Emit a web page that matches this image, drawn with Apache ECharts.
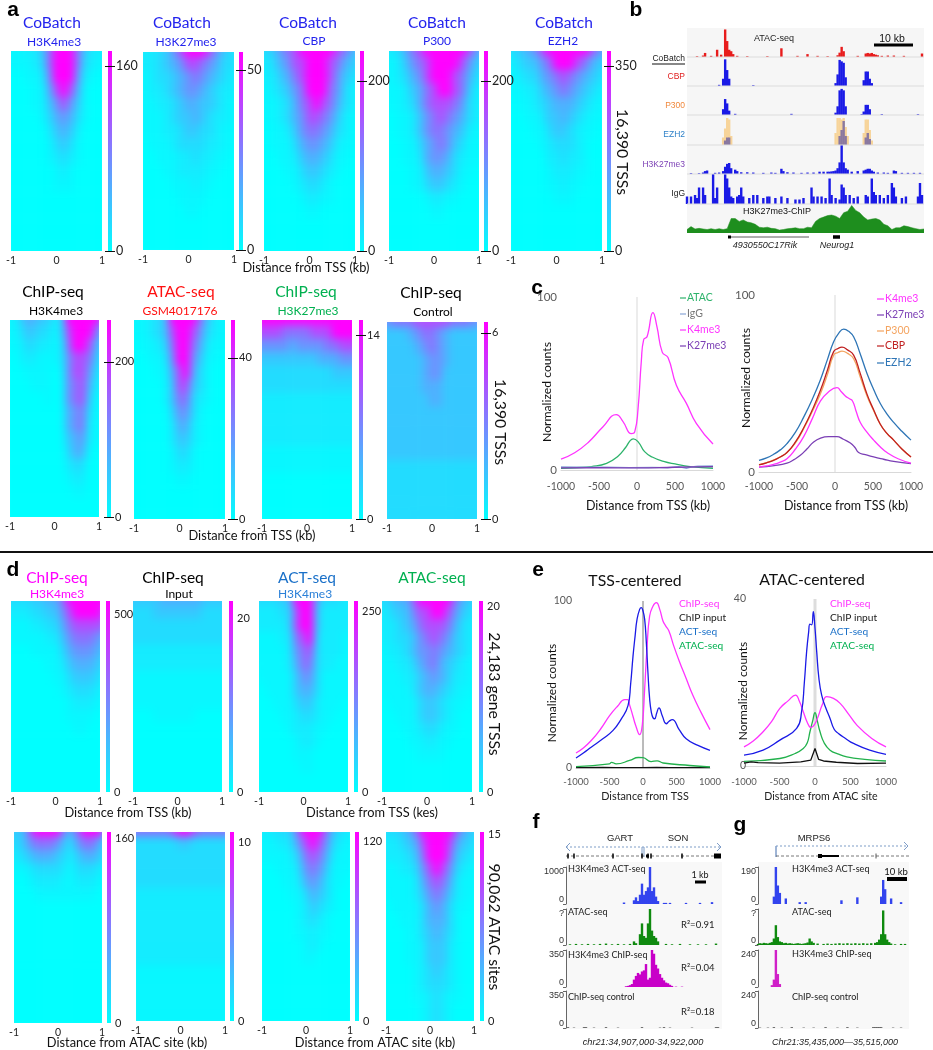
<!DOCTYPE html>
<html>
<head>
<meta charset="utf-8">
<title>CoBatch</title>
<style>
  html, body { margin: 0; padding: 0; background: #fff; }
  #heat, #main { position: absolute; left: 0; top: 0; width: 933px; height: 1050px; }
  #heat { filter: blur(4px); }
</style>
<script src="https://cdn.jsdelivr.net/npm/echarts@6/dist/echarts.min.js"></script>
</head>
<body>
<div id="heat"></div>
<div id="main"></div>
<script>
// heatmap values: one digit per cell, 0 = cyan, 9 = magenta
const Z = '000000000000000';
const aK4 = ['111224799974221','111123799973211','000112699962100','000011589851000','000011468641000','000001356531000','000000245420000','000000134310000','000000123210000','000000012100000','000000011100000',Z,Z,Z,Z,Z];
const aK27 = ['222346899986432','222345688765332','112334567654322','112234566543221','111223455443211','111123445432211','011122344332110','001112333322110','000111223221100','000011222211000','000001112110000','000000111100000','000000011000000',Z,Z,Z];
const aCBP = ['334678999998754','223568899987543','122457899986432','112346799976321','111235789875321','011235688764211','001124677653210','001113566542110','000112455431100','000011344321000','000001233210000','000000122110000','000000011000000',Z,Z,Z];
const aP300 = ['223578999999864','112467899998643','112356899987532','111245789987421','011235788876321','001124678765321','001124677654211','000113567643110','000112566532110','000011455431100','000011344321000','000000122110000','000000011000000',Z,Z,Z];
const aEZH2 = ['234568999999865','123446799987543','112335678765432','011224567654321','001123455543211','000112445432110','000011344321100','000001233321000','000000223221000','000000122211000','000000112110000','000000011100000',Z,Z,Z,Z];
const bK4 = ['113554423999997','112443313899974','011332212799853','001221112688742','000111101688631','000011100678521','000000100678410','000000000567310','000000000567210','000000000456210','000000000355100','000000000233000','000000000122000','000000000011000',Z,Z];
const bATAC = ['111234999974211','011234899863211','001123799752110','000112699641100','000011589531000','000001488431000','000001477321000','000000366310000','000000255210000','000000244210000','000000133100000','000000122100000','000000011000000',Z,Z,Z];
const bK27 = ['999999999999999','888877778889999','666665666677888','444444444555666','333333333334444','333333333333333','222222222222222','222222222222222','222222222222222','222222222222222','111111111111111','111111111111111',Z,Z,Z,Z];
const bCtrl = ['667778888877766','444456776544444','444445676544444','444444566544444','444444566444444','444444555444444','444444455444444','444444444444444','444444444444444','444444444444444','444444444444444','333333333333333','333333333333333','333333333333333','333333333333333','333333333333333'];
const dChIP = ['333344557999999','222233446899998','111122335788887','011111224677765','000011113566654','000000112455543','000000011344432','000000001233321','000000000122211','000000000111100','000000000011000',Z,Z,Z,Z,Z];
const dInput = ['444445555554444','333344444443333','333333333333333','333333333333333','222222222222222','222222222222222','111111111111111','111111111111111','111111111111111','000011111100000',Z,Z,Z,Z,Z,Z];
const dACT = ['333344999533322','222233899422222','222223899422222','111122789322211','111112678322211','111112577322111','011111466311111','001111455311111','000111344211100','000011233211000','000001222110000','000000122100000','000000111000000','000000011000000',Z,Z];
const dATAC = ['334557999997543','223446889986432','222345788875322','122334678764322','112234667654321','111223567543211','111122456542211','011112455432110','001111344321100','000111344321000','000011233211000','000001122110000','000000111100000',Z,Z,Z];
const eChIP = ['444899996589994','334677764367753','223455543245542','111233332133321','000122221122210','000011111111100',Z,Z,Z,Z,Z,Z,Z,Z,Z,Z];
const eInput = ['777777899877777','333333344333333','333333333333333','333333333333333','333333333333333','222222222222222','222222222222222','222222222222222','222222222222222','222222222222222','222222222222222','111111111111111','111111111111111','111111111111111','111111111111111','111111111111111'];
const eACT = ['222334899974322','111223689863211','111112478752111','000111367641110','000011256531100','000001135431000','000000124321000','000000123210000','000000112110000','000000012100000','000000011000000',Z,Z,Z,Z,Z];
const eATAC = ['333457999997543','222345899985432','222234799974322','111223689863211','111112578752111','011112467642110','001111356531100','000111355531000','000011345431000','000011244421000','000011244421000','000001234321000','000001233321000','000001123211000','000000123210000','000000123210000'];
const heatValues = [aK4, aK27, aCBP, aP300, aEZH2, bK4, bATAC, bK27, bCtrl, dChIP, dInput, dACT, dATAC, eChIP, eInput, eACT, eATAC];

// colour bar scale of each heatmap: labelled tick and value at the top of the bar
const barTicks = [160, 50, 200, 200, 350, 200, 40, 14, 6, 500, 20, 250, 20, 160, 10, 120, 15];
const barMaxes = [173, 55, 235, 235, 378, 254, 49.4, 15.2, 6.35, 539, 22, 265, 20.6, 166, 10.6, 126, 15.2];

// panel c curves [distance, counts]
const cAtac = [[-1000,1],[-800,1.3],[-600,2],[-400,3.8],[-250,8],[-150,13],[-90,17],[-50,18],[20,16],[100,10.6],[200,7.5],[350,5],[500,3.5],[700,2],[1000,1]];
const cIgG = [[-1000,1.8],[-700,1.6],[-400,1.7],[-100,1.4],[200,1.5],[400,1.3],[550,2],[650,1],[720,1.8],[800,2.2],[1000,2.4]];
const cK4 = [[-1000,6.3],[-820,10],[-645,15.8],[-447,25],[-272,32],[-184,28],[-75,21],[-30,22],[13,35],[57,63],[88,75.4],[132,77],[210,91],[263,82.7],[333,68],[408,65],[518,49],[650,38.5],[780,27],[1000,15]];
const cK27 = [[-1000,1.2],[-500,1.3],[0,1.2],[500,1.6],[1000,2]];
const c2Ezh2 = [[-1000,6.6],[-900,8],[-807,10],[-720,12.5],[-632,16],[-520,22.5],[-412,31],[-300,41],[-193,52],[-100,63.5],[-18,73.6],[50,78.5],[114,80.7],[180,79.5],[245,76.4],[330,67],[421,55.7],[510,46.5],[596,38.7],[680,33],[772,28],[880,23],[1000,18]];
const c2Cbp = [[-1000,4],[-900,5.2],[-807,6.6],[-720,8.5],[-632,11],[-520,17],[-412,25],[-300,35],[-193,46],[-100,57.5],[-18,68],[40,69.8],[92,70.5],[165,69],[245,66],[330,56],[421,44],[510,35],[596,27],[680,22],[772,18],[880,13],[1000,8.5]];
const c2P300 = [[-1000,4.2],[-900,5.3],[-807,6.8],[-720,8.6],[-632,11],[-520,16.5],[-412,24.5],[-300,34],[-193,44],[-100,55],[-18,66],[40,67.5],[92,68.3],[165,67],[245,64],[330,54],[421,43],[510,34.5],[596,27],[680,22],[772,18],[880,13],[1000,8.5]];
const c2K4 = [[-1000,2.8],[-900,3.4],[-807,4.3],[-720,5.6],[-632,7.5],[-520,13],[-412,20],[-300,30],[-193,40],[-80,45.5],[26,47.7],[80,45.5],[136,43],[185,41.5],[232,40],[280,34],[333,28],[420,22.5],[509,18],[600,14],[684,11],[830,7.5],[1000,5]];
const c2K27 = [[-1000,2.8],[-800,3.6],[-632,5],[-540,7],[-456,9.4],[-370,13],[-281,17],[-190,19.2],[-83,20],[26,20],[110,18.5],[202,16.4],[260,14],[311,11],[400,9.8],[509,8.5],[640,7.2],[772,6],[1000,4.7]];

// panel e curves
const eLChip = [[-1000,9],[-890,12],[-769,16.6],[-630,23.5],[-496,31.5],[-380,37],[-273,41],[-230,41],[-198,37.5],[-150,31],[-109,25.5],[-50,20],[-10,26],[25,47.5],[60,72],[99,91],[150,97],[199,99],[250,95],[298,88],[340,85],[387,82],[460,73],[546,63.5],[640,54],[744,43.5],[870,33],[1000,23]];
const eLInput = [[-1000,0.2],[-600,0.3],[-200,0.2],[200,0.3],[600,0.2],[1000,0.3]];
const eLAct = [[-1000,6],[-890,9],[-769,12.6],[-600,17.5],[-447,22.5],[-330,29],[-223,37.5],[-185,50],[-149,67],[-118,79],[-89,89],[-50,95],[-25,96],[0,94],[25,89],[50,75],[74,57],[100,41],[124,33.5],[150,30],[174,29.5],[205,33],[238,36],[290,31],[347,26.5],[390,28],[437,29],[540,23],[645,17.5],[820,13.5],[1000,10.6]];
const eLAtac = [[-1000,0.8],[-500,2.5],[-470,3.4],[-400,2.5],[-200,4.5],[-70,6.3],[0,6.2],[120,3.8],[210,4.3],[300,3],[700,1.5],[1000,0.6]];
const eRChip = [[-1000,4.6],[-870,6],[-731,8.2],[-610,10.7],[-495,13.8],[-380,15.6],[-274,17],[-220,15.5],[-165,13],[-110,10.5],[-57,9.2],[-5,10],[47,12],[105,14.8],[165,16.6],[260,16.2],[354,15],[470,12.5],[590,9.8],[800,6.6],[1000,4.6]];
const eRInput = [[-1000,0.7],[-900,1],[-800,0.8],[-500,0.7],[-200,1],[-60,1.4],[0,4.2],[50,1.6],[120,1.2],[300,0.9],[600,0.6],[1000,0.7]];
const eRAct = [[-1000,2.6],[-731,3.8],[-495,6.2],[-259,9],[-189,13],[-150,20],[-118,27.4],[-90,32],[-71,34],[-47,33.8],[-24,37],[0,33],[24,27.4],[55,21],[94,17],[150,14],[212,11.4],[270,8.8],[330,7.8],[430,6.6],[542,5.4],[770,3.8],[1000,2.8]];
const eRAtac = [[-1000,1.1],[-495,1.8],[-280,3],[-165,4.2],[-110,5.5],[-71,8.2],[-30,11],[0,12.8],[30,11],[71,8.2],[130,5.5],[212,3.8],[320,2.9],[448,2.2],[700,1.6],[1000,1.2]];

// browser tracks, panel b [bin, height]
const bAtacTrack = [[5,3],[8,5],[9,14],[12,4],[15,25],[17,8],[19,95],[20,55],[21,25],[22,20],[23,10],[25,4],[30,3],[40,3],[47,30],[55,4],[60,10],[65,4],[70,3],[75,6],[76,15],[77,35],[78,20],[85,4],[89,12],[90,14],[91,12],[92,14],[93,10],[94,8],[95,6],[97,4],[100,5],[103,5],[108,4],[117,12]];
const bCbp = [[16,4],[18,25],[19,92],[20,55],[21,25],[33,3],[74,10],[75,40],[76,90],[77,85],[78,80],[79,30],[88,20],[89,50],[90,50],[91,25],[92,10]];
const bP300 = [[18,20],[19,55],[20,40],[21,15],[24,4],[52,4],[74,8],[75,30],[76,85],[77,90],[78,85],[79,30],[87,3],[88,12],[89,35],[90,35],[91,20],[97,3],[115,3]];
const bEzh2Orange = [[18,25],[19,55],[20,90],[21,85],[22,30],[74,40],[75,90],[76,90],[77,85],[78,90],[79,60],[80,30],[88,40],[89,85],[90,85],[91,50],[92,15]];
const bEzh2Blue = [[19,15],[20,25],[21,25],[76,30],[77,50],[78,80],[79,30],[89,25],[90,40],[91,20]];
const bK27Track = [[2,3],[6,3],[8,5],[9,10],[10,12],[14,4],[16,5],[18,10],[19,25],[20,35],[21,38],[22,20],[24,15],[25,10],[27,6],[30,6],[33,5],[38,4],[42,5],[44,4],[47,18],[48,10],[50,6],[53,5],[57,4],[60,5],[63,5],[66,8],[68,8],[70,8],[71,8],[72,9],[73,10],[74,12],[75,20],[76,40],[77,100],[78,40],[79,20],[80,15],[82,8],[85,10],[88,12],[89,15],[90,18],[91,18],[92,12],[93,8],[95,5],[98,5],[100,4],[103,12],[104,10],[107,4],[110,4],[113,4],[116,4]];
const bIgG = [[0,25],[2,25],[4,30],[5,20],[6,55],[8,55],[9,30],[13,100],[14,20],[15,55],[19,100],[20,85],[21,55],[22,25],[23,20],[25,25],[26,30],[27,55],[28,25],[31,20],[33,30],[35,30],[38,20],[40,25],[41,25],[44,20],[47,25],[50,20],[54,15],[56,15],[58,20],[62,55],[63,25],[65,25],[67,25],[69,20],[71,85],[72,30],[74,20],[76,15],[77,65],[78,55],[79,30],[81,30],[83,20],[85,25],[89,30],[90,25],[92,85],[93,40],[94,30],[96,30],[98,20],[100,30],[102,70],[103,55],[104,25],[107,20],[109,25],[115,25],[116,70],[117,30]];
const bChipTrack = [12,22,14,16,14,12,15,12,15,12,15,50,50,40,45,38,35,30,20,18,20,16,15,10,12,15,16,18,15,15,20,18,40,50,55,60,62,58,50,70,75,95,78,70,55,45,48,50,45,30,25,12,18,18,25,22,18,15,12,14];

// browser tracks, panel f
const fAct = [[29,4],[34,10],[35,18],[36,8],[37,25],[38,55],[39,25],[40,35],[41,45],[42,100],[43,35],[44,45],[45,20],[46,8],[49,3],[50,3],[52,3],[60,3],[67,3],[73,5]];
const fAtac = [[2,2],[5,3],[8,2],[11,3],[14,2],[17,3],[20,4],[23,2],[26,3],[29,2],[32,3],[34,10],[35,5],[37,30],[38,60],[39,25],[40,20],[41,60],[42,100],[43,40],[44,25],[45,20],[46,10],[50,3],[53,2],[57,3],[62,2],[66,2],[70,2],[75,4]];
const fChip = [[30,2],[31,3],[32,5],[33,8],[34,20],[35,30],[36,38],[37,34],[38,42],[39,45],[40,62],[41,20],[42,25],[43,100],[44,90],[45,60],[46,50],[47,35],[48,25],[49,18],[50,12],[51,10],[52,6],[53,3],[55,1],[58,1]];
const fCtrl = [[1,2],[4,1],[9,2],[10,2],[14,1],[20,2],[26,1],[38,2],[47,1],[49,2],[52,1],[63,1],[75,2],[76,2]];

// browser tracks, panel g
const gAct = [[8,20],[9,100],[10,50],[11,30],[14,15],[21,5],[24,5],[42,10],[50,18],[62,20],[63,65],[64,40],[67,15],[72,5]];
const gAtac = [[0,3],[1,5],[2,4],[3,6],[4,5],[5,4],[6,6],[7,8],[8,18],[9,55],[10,22],[11,10],[12,8],[13,5],[14,6],[15,4],[16,5],[17,4],[18,3],[19,4],[20,5],[21,4],[22,3],[23,4],[24,5],[25,7],[26,18],[27,10],[28,6],[30,4],[33,3],[35,4],[37,3],[39,4],[41,5],[43,4],[45,5],[47,4],[49,5],[51,4],[53,5],[55,4],[57,5],[59,6],[60,8],[61,15],[62,30],[63,96],[64,30],[65,15],[66,8],[67,4],[69,2],[72,3],[74,3]];
const gChip = [[7,5],[8,20],[9,100],[10,35],[11,8]];
const gCtrl = [[1,1],[5,1],[8,2],[12,1],[17,2],[23,1],[28,1],[34,2],[40,1],[45,2],[50,1],[58,2],[59,2],[60,2],[61,2],[62,2],[68,1],[72,1]];

const fAxisTops = ['1000', '?', '350', '350'];
const gAxisTops = ['190', '?', '240', '240'];

// ---------- layout, pixels of the 933x1050 page ----------
const heatRects = [
  [11,51,102,251],[143,52,234,250],[264,51,355,251],[389,51,479,251],[511,51,602,251],
  [10,320,99,517],[134,320,225,519],[262,320,352,519],[387,322,477,519],
  [11,601,100,792],[133,601,222,792],[259,601,348,792],[382,601,472,792],
  [14,832,102,1023],[136,832,225,1021],[262,832,350,1021],[386,832,474,1021]
];
const barLefts = [108,239,360,484,607,107,231,359,484,106,229,354,479,107,230,355,480];
const PAD = 8; // heatmaps are drawn a bit larger, the blur edge is cut away by the clip path

// ---------- blurred heatmap layer ----------
const heatEl = document.getElementById('heat');
heatEl.style.clipPath = "path('" + heatRects.map(function (r) {
  return 'M' + r[0] + ' ' + r[1] + 'H' + r[2] + 'V' + r[3] + 'H' + r[0] + 'Z';
}).join(' ') + "')";

const heatChart = echarts.init(heatEl, null, { renderer: 'canvas' });
const hGrid = [], hX = [], hY = [], hSeries = [];
const colIdx = [], rowIdx = [];
for (let i = 0; i < 15; i++) colIdx.push(i);
for (let i = 0; i < 16; i++) rowIdx.push(i);
heatValues.forEach(function (rows, i) {
  const r = heatRects[i];
  hGrid.push({ left: r[0] - PAD, top: r[1] - PAD, width: r[2] - r[0] + 2 * PAD, height: r[3] - r[1] + 2 * PAD });
  hX.push({ type: 'category', gridIndex: i, data: colIdx, show: false });
  hY.push({ type: 'category', gridIndex: i, data: rowIdx, inverse: true, show: false });
  const cells = [];
  rows.forEach(function (row, y) {
    row.split('').forEach(function (c, x) { cells.push([x, y, +c]); });
  });
  hSeries.push({ type: 'heatmap', xAxisIndex: i, yAxisIndex: i, data: cells, progressive: 0, silent: true });
});
heatChart.setOption({
  animation: false,
  grid: hGrid, xAxis: hX, yAxis: hY, series: hSeries,
  // one colour per digit, low digits stay close to cyan
  visualMap: {
    show: false, min: 0, max: 9,
    inRange: { color: ['#00ffff','#08f7ff','#14ecff','#22dcff','#36c8ff','#4eb0ff','#6a94ff','#8a72ff','#b24cff','#ff00ff'] }
  }
});

// ---------- everything else ----------
const FONT = 'Lato';
const ARIAL = 'Liberation Sans';
const grids = [], xAxes = [], yAxes = [], series = [], graphics = [];

function label(text, x, y, size, color, opt) {
  opt = opt || {};
  graphics.push({
    type: 'text', x: x, y: y, rotation: opt.rot || 0, silent: true, z: 10,
    style: {
      text: text, fill: color || '#000',
      font: (opt.italic ? 'italic ' : '') + (opt.weight || 'normal') + ' ' + size + 'px "' + (opt.font || FONT) + '"',
      textAlign: opt.align || 'center', textVerticalAlign: 'middle'
    }
  });
}
function seg(x1, y1, x2, y2, color, w, dash) {
  graphics.push({
    type: 'line', silent: true, z: 10, shape: { x1: x1, y1: y1, x2: x2, y2: y2 },
    style: { stroke: color, lineWidth: w, lineDash: dash || null }
  });
}
function addGrid(l, t, r, b, extra) {
  grids.push(Object.assign({ left: l, top: t, width: r - l, height: b - t }, extra || {}));
  return grids.length - 1;
}

// x ticks of the heatmaps
heatRects.forEach(function (r) {
  const g = addGrid(r[0], r[1], r[2], r[3]);
  xAxes.push({
    type: 'value', gridIndex: g, min: -1, max: 1, interval: 1,
    axisLine: { show: false }, axisTick: { show: false }, splitLine: { show: false },
    axisLabel: { fontSize: 10.5, color: '#222', margin: 4, fontFamily: FONT, hideOverlap: false }
  });
  yAxes.push({ type: 'value', gridIndex: g, show: false });
});

// colour bars: gradient as grid background, plus a second grid holding the axis
// that starts left of the bar so its ticks cross the bar
barLefts.forEach(function (l, i) {
  const r = heatRects[i];
  const grad = new echarts.graphic.LinearGradient(0, 0, 0, 1, [
    { offset: 0, color: '#ff00ff' }, { offset: 1, color: '#00ffff' }
  ]);
  const gb = addGrid(l, r[1], l + 4, r[3], { show: true, backgroundColor: grad, borderWidth: 0 });
  xAxes.push({ type: 'value', gridIndex: gb, show: false, min: 0, max: 1 });
  yAxes.push({ type: 'value', gridIndex: gb, show: false, min: 0, max: 1 });

  const withTick = i < 9;
  const ga = addGrid(withTick ? l - 3 : l + 4, r[1], l + 5, r[3]);
  xAxes.push({ type: 'value', gridIndex: ga, show: false, min: 0, max: 1 });
  yAxes.push({
    type: 'value', gridIndex: ga, position: 'left', min: 0, max: barMaxes[i],
    axisLine: { show: false }, splitLine: { show: false },
    axisTick: { show: withTick, inside: true, length: 10, customValues: [0, barTicks[i]], lineStyle: { color: '#111', width: 1 } },
    axisLabel: {
      inside: true, customValues: [0, barTicks[i]], fontFamily: FONT, color: '#222',
      fontSize: i < 5 ? 12.5 : 11, margin: withTick ? 11 : 4
    }
  });
});

// line panels
function linePanel(l, t, r, b, yMax, curves, zeroColor, zeroWidth, labelSize, margins) {
  const g = addGrid(l, t, r, b);
  xAxes.push({
    type: 'value', gridIndex: g, min: -1000, max: 1000, interval: 500,
    axisLine: { onZero: false, lineStyle: { color: '#d9d9d9' } }, axisTick: { show: false }, splitLine: { show: false },
    axisLabel: {
      fontSize: labelSize, color: '#595959', margin: margins[0], fontFamily: FONT, hideOverlap: false,
      formatter: function (v) { return String(v); }
    }
  });
  yAxes.push({
    type: 'value', gridIndex: g, min: 0, max: yMax, interval: yMax,
    axisLine: { show: false }, axisTick: { show: false }, splitLine: { show: false },
    axisLabel: { fontSize: labelSize + 1, color: '#595959', margin: margins[1], fontFamily: FONT }
  });
  series.push({
    type: 'line', xAxisIndex: g, yAxisIndex: g, data: [[0, 0], [0, yMax]], symbol: 'none', silent: true,
    lineStyle: { color: zeroColor, width: zeroWidth }
  });
  curves.forEach(function (c) {
    series.push({
      name: c[0], type: 'line', xAxisIndex: g, yAxisIndex: g, data: c[1], symbol: 'none',
      smooth: c[3] === false ? false : 0.5,
      lineStyle: { color: c[2], width: 1.3 }
    });
  });
}
const MAG = '#ff33ff', PUR = '#7b3fb5', GRN = '#2db36b', LBL = '#8aa7d8', ORG = '#f4a460', RED = '#c02020', BLU = '#2e75b6', DBL = '#1a1ae6', EGR = '#22b14c';
linePanel(561, 297, 713, 470, 100, [['ATAC', cAtac, GRN], ['IgG', cIgG, LBL, false], ['K27me3', cK27, PUR], ['K4me3', cK4, MAG]], '#d9d9d9', 1, 10.5, [11, 4]);
linePanel(759, 295, 911, 472, 100, [['K27me3', c2K27, PUR], ['K4me3', c2K4, MAG], ['P300', c2P300, ORG], ['CBP', c2Cbp, RED], ['EZH2', c2Ezh2, BLU]], '#d9d9d9', 1, 10.5, [9, 4]);
linePanel(576, 601, 710, 768, 100, [['ChIP input', eLInput, '#111'], ['ATAC-seq', eLAtac, EGR], ['ChIP-seq', eLChip, MAG], ['ACT-seq', eLAct, DBL]], '#777', 1, 9.5, [9, 4]);
linePanel(744, 599, 886, 766, 40, [['ATAC-seq', eRAtac, EGR], ['ChIP input', eRInput, '#111', false], ['ChIP-seq', eRChip, MAG], ['ACT-seq', eRAct, DBL]], '#dddddd', 3, 9.5, [11, -2]);

// browser tracks
function track(l, t, r, b, nBins, bars, opt) {
  opt = opt || {};
  const g = addGrid(l, t, r, b, opt.top ? {} : { show: true, backgroundColor: '#f6f6f6', borderWidth: 0 });
  xAxes.push({ type: 'value', gridIndex: g, min: 0, max: nBins, show: false });
  yAxes.push({
    type: 'value', gridIndex: g, min: 0, max: 100, interval: 100,
    show: !!opt.top, splitLine: { show: false },
    axisLine: { show: true, lineStyle: { color: '#666' } },
    axisTick: { length: 3, lineStyle: { color: '#666' } },
    axisLabel: {
      fontSize: 9, color: '#333', margin: 2, fontFamily: ARIAL,
      verticalAlignMinLabel: 'bottom', verticalAlignMaxLabel: 'top',
      formatter: function (v) { return v === 0 ? '0' : opt.top; }
    }
  });
  bars.forEach(function (b2) {
    series.push({
      type: 'bar', xAxisIndex: g, yAxisIndex: g, data: b2[0], barWidth: opt.w || 2.4, barGap: '-100%',
      itemStyle: { color: b2[1] }, silent: true
    });
  });
  return g;
}
const tb = [[28,57],[57,86],[86,115],[115,145],[145,174],[174,204]];
track(687, tb[0][0], 924, tb[0][1], 118, [[bAtacTrack, '#e81c1c']]);
track(687, tb[1][0], 924, tb[1][1], 118, [[bCbp, DBL]]);
track(687, tb[2][0], 924, tb[2][1], 118, [[bP300, DBL]]);
track(687, tb[3][0], 924, tb[3][1], 118, [[bEzh2Orange, '#f7d49a'], [bEzh2Blue, '#8a78a0']]);
track(687, tb[4][0], 924, tb[4][1], 118, [[bK27Track, DBL]]);
track(687, tb[5][0], 924, tb[5][1], 118, [[bIgG, DBL]]);
tb.forEach(function (t) { seg(687, t[1], 924, t[1], '#dcdcdc', 1); });
// H3K27me3-ChIP as a filled green profile
const gChipGrid = addGrid(687, 204, 924, 233, { show: true, backgroundColor: '#f6f6f6', borderWidth: 0 });
xAxes.push({ type: 'value', gridIndex: gChipGrid, min: 0, max: 59, show: false });
yAxes.push({ type: 'value', gridIndex: gChipGrid, min: 0, max: 100, show: false });
series.push({
  type: 'line', xAxisIndex: gChipGrid, yAxisIndex: gChipGrid, symbol: 'none', silent: true,
  data: bChipTrack.map(function (v, i) { return [i, v]; }),
  lineStyle: { color: '#1e8e1e', width: 0.5 }, areaStyle: { color: '#1e8e1e', opacity: 1 }
});

// grey band behind the tracks of f and g
[[566,722],[758,909]].forEach(function (p) {
  graphics.push({ type: 'rect', silent: true, z: -1, shape: { x: p[0], y: 862, width: p[1] - p[0], height: 167 }, style: { fill: '#f8f8f8' } });
});
const fy = [[867,904],[909,945],[950,987],[991,1028]];
[[fAct, '#3344ee'], [fAtac, '#0f8a0f'], [fChip, '#c800c8'], [fCtrl, '#444']].forEach(function (d, i) {
  track(566, fy[i][0], 722, fy[i][1], 78, [[d[0], d[1]]], { top: fAxisTops[i] });
});
[[gAct, '#3344ee'], [gAtac, '#0f8a0f'], [gChip, '#d020c8'], [gCtrl, '#444']].forEach(function (d, i) {
  track(758, fy[i][0], 909, fy[i][1], 76, [[d[0], d[1]]], { top: gAxisTops[i] });
});

// ---------- text ----------
const BIG = 15.5, SUB = 12;
[['a',13,10],['b',636,10],['c',537,288],['d',13,570],['e',538,570],['f',536,822],['g',740,825]].forEach(function (p) {
  label(p[0], p[1], p[2], 21, '#000', { weight: 'bold', font: ARIAL });
});
const CO = '#2323ee';
[[52,54,42,'H3K4me3'],[182,186,42,'H3K27me3'],[308,314,41,'CBP'],[437,437,41,'P300'],[564,563,41,'EZH2']].forEach(function (t) {
  label('CoBatch', t[0], 23, BIG, CO);
  label(t[3], t[1], t[2], SUB, CO);
});
[['ChIP-seq','H3K4me3',53,56,'#000','#000',292,311],['ATAC-seq','GSM4017176',181,180,'#ff1010','#ff1010',292,311],
 ['ChIP-seq','H3K27me3',306,308,'#00b050','#00b050',292,311],['ChIP-seq','Control',431,433,'#000','#000',293,312],
 ['ChIP-seq','H3K4me3',57,57,'#ff00ff','#ff00ff',578,594],['ChIP-seq','Input',173,179,'#000','#000',578,594],
 ['ACT-seq','H3K4me3',307,305,'#1a70c8','#2a80d8',578,594],['ATAC-seq','',432,432,'#00b050','#00b050',578,594]].forEach(function (t) {
  label(t[0], t[2], t[6], BIG, t[4]);
  if (t[1]) label(t[1], t[3], t[7], SUB, t[5]);
});
[['Distance from TSS (kb)',306,268],['Distance from TSS (kb)',252,536],['Distance from TSS (kb)',128,813],
 ['Distance from TSS (kes)',372,813],['Distance from ATAC site (kb)',127,1043],['Distance from ATAC site (kb)',375,1043]].forEach(function (t) {
  label(t[0], t[1], t[2], 12.8, '#111');
});
const ROT = -Math.PI / 2;
[['16,390 TSSs',622,152],['16,390 TSSs',500,422],['24,183 gene TSSs',494,694],['90,062 ATAC sites',494,927]].forEach(function (t) {
  label(t[0], t[1], t[2], 15.7, '#111', { rot: ROT });
});
seg(0, 552, 933, 552, '#111', 2);

// panel c text
[['ATAC',298,GRN,GRN],['IgG',314,'#777',LBL],['K4me3',330,MAG,MAG],['K27me3',346,PUR,PUR]].forEach(function (t) {
  seg(680, t[1], 686, t[1], t[3], 1.2);
  label(t[0], 687, t[1], 10.5, t[2], { align: 'left' });
});
[['K4me3',299,MAG],['K27me3',315,PUR],['P300',331,ORG],['CBP',346,RED],['EZH2',363,BLU]].forEach(function (t) {
  seg(877, t[1], 884, t[1], t[2], 1.2);
  label(t[0], 885, t[1], 10.5, t[2], { align: 'left' });
});
label('Normalized counts', 547, 392, 12.2, '#111', { rot: Math.PI / 2 });
label('Normalized counts', 746, 378, 12.2, '#111', { rot: Math.PI / 2 });
label('Distance from TSS (kb)', 648, 506, 12.5, '#111');
label('Distance from TSS (kb)', 846, 506, 12.5, '#111');

// panel e text
label('TSS-centered', 635, 581, 15.8, '#111');
label('ATAC-centered', 812, 580, 15.8, '#111');
[679, 830].forEach(function (x) {
  [['ChIP-seq',604,'#ff33ff'],['ChIP input',618,'#222'],['ACT-seq',632,'#1a70c8'],['ATAC-seq',646,'#00b050']].forEach(function (t) {
    label(t[0], x, t[1], 10.2, t[2], { align: 'left' });
  });
});
label('Normalized counts', 552, 693, 12, '#111', { rot: Math.PI / 2 });
label('Normalized counts', 743, 691, 12, '#111', { rot: Math.PI / 2 });
label('Distance from TSS', 645, 797, 10.8, '#222');
label('Distance from ATAC site', 821, 797, 10.6, '#222');

// panel b text and gene model
label('ATAC-seq', 774, 39, 9, '#222', { font: ARIAL });
label('10 kb', 892, 39, 10.5, '#111', { font: ARIAL });
seg(874, 45, 913, 45, '#000', 3);
label('CoBatch', 685, 59, 8.5, '#222', { align: 'right', font: ARIAL });
seg(652, 64, 685, 64, '#111', 1.2);
[['CBP',77,'#e02020'],['P300',106,'#f0883c'],['EZH2',135,'#2e80c8'],['H3K27me3',165,'#7b3fb5'],['IgG',194,'#222']].forEach(function (t) {
  label(t[0], 685, t[1], 8.5, t[2], { align: 'right', font: ARIAL });
});
label('H3K27me3-ChIP', 777, 212, 9, '#111', { font: ARIAL });
seg(728, 237, 809, 237, '#333', 0.8);
seg(728, 237, 731, 237, '#000', 3);
seg(833, 237, 840, 237, '#000', 3.5);
label('4930550C17Rik', 765, 245, 9, '#222', { italic: true, font: ARIAL });
label('Neurog1', 837, 245, 9, '#222', { italic: true, font: ARIAL });

// panel f text and gene model
label('GART', 620, 838, 9.5, '#222', { font: ARIAL });
label('SON', 678, 838, 9.5, '#222', { font: ARIAL });
const ARW = '#7f9dc8';
seg(566, 847, 721, 847, ARW, 1, [2, 2]);
seg(570, 843, 566, 847, ARW, 1); seg(566, 847, 570, 851, ARW, 1);
seg(717, 843, 721, 847, ARW, 1); seg(721, 847, 717, 851, ARW, 1);
seg(642, 847, 642, 857, ARW, 1); seg(644, 847, 644, 857, ARW, 1);
seg(566, 856, 721, 856, '#555', 0.8, [3, 2]);
[568,574,613,642,648,651,682].forEach(function (x) { seg(x, 853.5, x, 858.5, '#000', 1.5); });
seg(714, 856, 721, 856, '#000', 5);
seg(646, 856, 649, 856, '#000', 3);
[['H3K4me3 ACT-seq',869],['ATAC-seq',912],['H3K4me3 ChIP-seq',955],['ChIP-seq control',997]].forEach(function (t) {
  label(t[0], 568, t[1], 9.1, '#222', { align: 'left' });
  label(t[0], 792, t[1] - (t[1] === 955 ? 1 : 0), 9.1, '#222', { align: 'left' });
});
label('R²=0.91', 681, 925, 9.5, '#222', { align: 'left' });
label('R²=0.04', 681, 968, 9.5, '#222', { align: 'left' });
label('R²=0.18', 681, 1012, 9.5, '#222', { align: 'left' });
label('1 kb', 700, 875, 9, '#111');
seg(695, 882, 706, 882, '#000', 3);
label('chr21:34,907,000-34,922,000', 643, 1042, 9.2, '#222', { italic: true, font: ARIAL });

// panel g text and gene model
label('MRPS6', 814, 838, 9.5, '#222', { font: ARIAL });
seg(776, 846, 908, 846, ARW, 1, [2, 2]);
seg(904, 842, 908, 846, ARW, 1); seg(908, 846, 904, 850, ARW, 1);
seg(776, 846, 776, 857, ARW, 1.5);
seg(776, 856, 909, 856, '#555', 0.8, [3, 2]);
seg(820, 856, 839, 856, '#000', 2);
seg(818, 856, 822, 856, '#000', 4);
seg(876, 853.5, 876, 858.5, '#555', 1);
label('10 kb', 896, 872, 9.5, '#111');
seg(887, 879, 907, 879, '#000', 4);
label('Chr21:35,435,000—35,515,000', 835, 1042, 9, '#222', { italic: true, font: ARIAL });

const chart = echarts.init(document.getElementById('main'));
chart.setOption({
  animation: false,
  backgroundColor: 'transparent',
  grid: grids, xAxis: xAxes, yAxis: yAxes, series: series,
  graphic: { elements: graphics }
});
window.addEventListener('resize', function () { heatChart.resize(); chart.resize(); });
</script>
</body>
</html>
